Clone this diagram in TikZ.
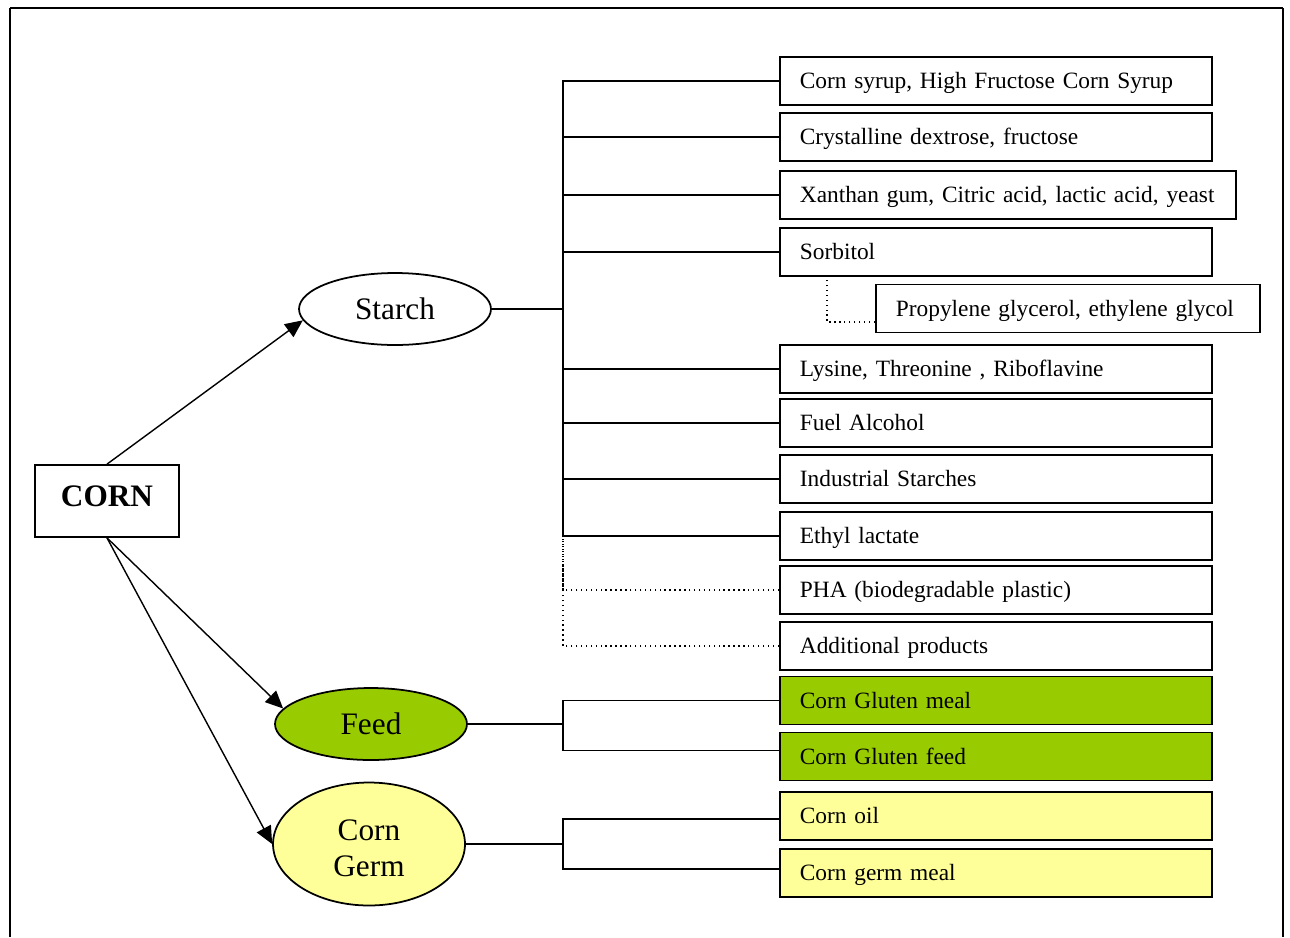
\documentclass[tikz,border=0pt]{standalone}
\usepackage{fontspec}
\setmainfont{Liberation Serif}
\usetikzlibrary{shapes, arrows.meta, positioning}
\definecolor{feedgreen}{HTML}{99CC00}
\definecolor{germyellow}{HTML}{FFFF99}
\tikzstyle{src} = [rectangle, draw, line width=1pt, minimum width=2.88cm, minimum height=1.44cm, text height=0.8em, text depth=0.14em, font=\fontsize{17.8}{20}\selectfont\bfseries]
\tikzstyle{part} = [ellipse, draw, line width=1pt, minimum width=3.84cm, minimum height=1.44cm, inner sep=0pt, font=\fontsize{17.8}{20.5}\selectfont, align=center]
\tikzstyle{prod} = [rectangle, draw, line width=1pt, anchor=west, minimum height=0.96cm, inner xsep=0.4cm, text width=7.84cm, text height=10pt, text depth=1.2pt, align=left, font=\fontsize{13.3}{16}\selectfont]
\tikzstyle{reg} = [-{Triangle[length=10pt, width=9pt]}, line width=0.8pt]
\tikzstyle{link} = [line width=0.8pt]
\tikzstyle{maybe} = [line width=0.8pt, dotted]

\begin{document}
\begin{tikzpicture}[x=0.02cm, y=-0.02cm]
  \useasboundingbox (0,0) rectangle (1290,937);
  % frame
  \draw[line width=1pt] (10,937) -- (10,8);
  \draw[line width=1pt] (1283,8) -- (1283,937);
  \draw[line width=1.6pt] (10,8) -- (1283,8);

  % sources
  \node[src] (corn) at (107,501) {CORN};
  \node[part] (starch) at (395,309) {Starch};
  \node[part, fill=feedgreen] (feed) at (371,724) {Feed};
  \node[part, fill=germyellow, minimum height=2.46cm] (germ) at (369,844) {\\[-4pt]Corn\\Germ};

  % starch products
  \node[prod] (s1) at (779,81) {Corn syrup, High Fructose Corn Syrup};
  \node[prod] (s2) at (779,137) {Crystalline dextrose, fructose};
  \node[prod, text width=8.32cm] (s3) at (779,195) {Xanthan gum, Citric acid, lactic acid, yeast};
  \node[prod] (s4) at (779,252) {Sorbitol};
  \node[prod, text width=6.88cm] (prop) at (875,308.5) {Propylene glycerol, ethylene glycol};
  \node[prod] (s5) at (779,369) {Lysine, Threonine , Riboflavine};
  \node[prod] (s6) at (779,423) {Fuel Alcohol};
  \node[prod] (s7) at (779,479) {Industrial Starches};
  \node[prod] (s8) at (779,536) {Ethyl lactate};
  \node[prod] (pha) at (779,590) {PHA (biodegradable plastic)};
  \node[prod] (addl) at (779,646) {Additional products};

  % feed products
  \node[prod, fill=feedgreen] (f1) at (779,700.5) {Corn Gluten meal};
  \node[prod, fill=feedgreen] (f2) at (779,756.5) {Corn Gluten feed};

  % germ products
  \node[prod, fill=germyellow] (g1) at (779,816) {Corn oil};
  \node[prod, fill=germyellow] (g2) at (779,873) {Corn germ meal};

  % junctions
  \coordinate (sj) at (563,309);
  \coordinate (sk) at (827,276);
  \coordinate (fj) at (563,724);
  \coordinate (gj) at (563,844);

  % arrows
  \draw[reg] (corn.north) -- (starch.187);
  \draw[reg] (corn.south) -- (feed.170);
  \draw[reg] (corn.south) -- (germ.west);

  % starch tree
  \draw[link] (starch.east) -- (sj);
  \foreach \p in {s1, s2, s3, s4, s5, s6, s7, s8}
    \draw[link] (\p.west) -| (sj);
  \draw[maybe] (pha.west) -| (sj);
  \draw[maybe] (addl.west) -| (sj);
  \draw[maybe] ([yshift=-0.27cm]prop.west) -| (sk);

  % feed tree
  \draw[link] (feed.east) -- (fj);
  \draw[link] (f1.west) -| (fj);
  \draw[link] ([yshift=0.12cm]f2.west) -| (fj);

  % germ tree
  \draw[link] (germ.east) -- (gj);
  \draw[link] ([yshift=-0.06cm]g1.west) -| (gj);
  \draw[link] ([yshift=0.08cm]g2.west) -| (gj);
\end{tikzpicture}
\end{document}
